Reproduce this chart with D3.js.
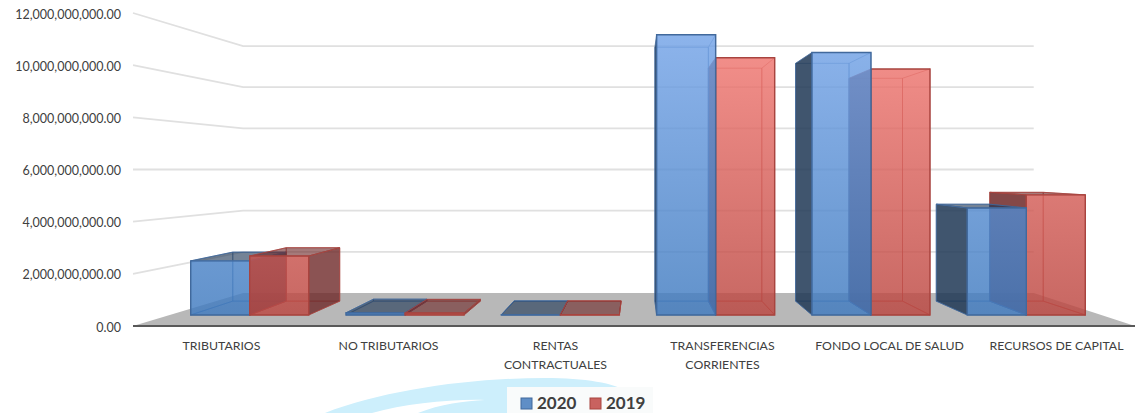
<!DOCTYPE html>
<html>
<head>
<meta charset="utf-8">
<script src="https://cdn.jsdelivr.net/npm/d3@7"></script>
<style>
  html, body { margin: 0; padding: 0; background: #fff; overflow: hidden; }
  text { font-family: Lato, "Open Sans", sans-serif; fill: #404040; }
</style>
</head>
<body>
<script>
// values
const categories = ["TRIBUTARIOS", "NO TRIBUTARIOS", "RENTAS\nCONTRACTUALES", "TRANSFERENCIAS\nCORRIENTES", "FONDO LOCAL DE SALUD", "RECURSOS DE CAPITAL"];
const seriesNames = ["2020", "2019"];
const values2020 = [2.23e9, 0.09e9, 0.01e9, 11.55e9, 10.82e9, 4.41e9];
const values2019 = [2.43e9, 0.08e9, 0.01e9, 10.6e9, 10.14e9, 4.95e9];
const yTicks = [0, 2e9, 4e9, 6e9, 8e9, 10e9, 12e9];

const width = 1135, height = 413;

const svg = d3.select("body").append("svg")
    .attr("width", width)
    .attr("height", height)
    .style("display", "block");

// scales live on the front edge of the floor, everything else gets projected back from there
const y = d3.scaleLinear().domain([0, 12e9]).range([326, 13]);
const x0 = d3.scaleBand().domain(categories).range([137, 1139]).paddingInner(0.24).paddingOuter(0.12);
const x1 = d3.scaleBand().domain(seriesNames).range([0, x0.bandwidth()]);

// walls and bars don't share quite the same vanishing point in the original
const wallVp = { x: 655, y: 169.6 }, wallK = 0.789;
const barVp = { x: 638, y: 168 }, frontK = 0.93, backK = 0.8425;

const proj = (vp, k) => (px, py) => [vp.x + (px - vp.x) * k, vp.y + (py - vp.y) * k];
const wall = proj(wallVp, wallK);
const front = proj(barVp, frontK);
const back = proj(barVp, backK);
const poly = pts => "M" + pts.map(p => p.join(",")).join("L") + "Z";

// gradients, in page coordinates so tall bars get lighter towards the top
const defs = svg.append("defs");
const grad = (id, top, bottom) => {
    const g = defs.append("linearGradient").attr("id", id)
        .attr("gradientUnits", "userSpaceOnUse")
        .attr("x1", 0).attr("y1", 35).attr("x2", 0).attr("y2", 315);
    g.append("stop").attr("offset", 0).attr("stop-color", top);
    g.append("stop").attr("offset", 1).attr("stop-color", bottom);
};
grad("blueFront", "#73a3e7", "#3f7abf");
grad("redFront", "#f37973", "#bb4640");

const styles = {
    "2020": { front: "url(#blueFront)", dark: "rgb(31,55,85)", edge: "#41699c", legend: "#5f8ec6" },
    "2019": { front: "url(#redFront)", dark: "rgb(110,40,40)", edge: "#a8443f", legend: "#c9625f" }
};

// watermark behind the legend
svg.append("path")
    .attr("d", "M325,413C385,390 470,378 545,378C585,378 615,383 627,392L600,413L418,413C440,404 465,401 485,400C450,399 405,404 372,413Z")
    .attr("fill", "#cdeffc");
svg.append("rect").attr("x", 507).attr("y", 387).attr("width", 146).attr("height", 26)
    .attr("fill", "#f9fbfb");

// back wall and side wall grid
svg.append("g").selectAll("path")
    .data(yTicks.slice(1))
    .join("path")
    .attr("d", d => {
        const a = wall(133, y(d)), b = wall(1135, y(d));
        return "M133," + y(d) + "L" + a.join(",") + "L" + b.join(",");
    })
    .attr("fill", "none")
    .attr("stroke", "#e0e0e0")
    .attr("stroke-width", 1.8);

// floor
svg.append("path")
    .attr("d", poly([[133, y(0)], wall(133, y(0)), wall(1135, y(0)), [1135, y(0)]]))
    .attr("fill", "#b8b8b8");
svg.append("line")
    .attr("x1", 133).attr("x2", 1135).attr("y1", y(0)).attr("y2", y(0))
    .attr("stroke", "#595959").attr("stroke-width", 2);

// flatten to one record per bar, far from the vanishing point goes first
const bars = [];
categories.forEach((c, i) => {
    bars.push({ cat: c, series: "2020", value: values2020[i] });
    bars.push({ cat: c, series: "2019", value: values2019[i] });
});
const barLeft = d => x0(d.cat) + x1(d.series);
bars.sort((a, b) =>
    Math.abs(barLeft(b) + x1.bandwidth() / 2 - 638 / frontK) - Math.abs(barLeft(a) + x1.bandwidth() / 2 - 638 / frontK));

const barG = svg.append("g").selectAll("g")
    .data(bars)
    .join("g");

barG.each(function (d) {
    const g = d3.select(this), s = styles[d.series];
    const l = barLeft(d), r = l + x1.bandwidth(), t = y(d.value), b = y(0);
    const fTL = front(l, t), fTR = front(r, t), fBL = front(l, b), fBR = front(r, b);
    const bTL = back(l, t), bTR = back(r, t), bBL = back(l, b), bBR = back(r, b);
    const rightOfVp = fTL[0] > barVp.x;
    const leftOfVp = fTR[0] < barVp.x;

    // inside edges, seen through the front
    g.append("path")
        .attr("d", poly([bTL, bTR, bBR, bBL]) + poly([fBL, fBR, bBR, bBL]))
        .attr("fill", "none").attr("stroke", s.edge).attr("stroke-opacity", 0.55);
    g.append("path")
        .attr("d", poly(rightOfVp ? [fTR, bTR, bBR, fBR] : [fTL, bTL, bBL, fBL]))
        .attr("fill", "none").attr("stroke", s.edge).attr("stroke-opacity", 0.55);

    // the side and the top that face the viewer are the dark ones
    if (rightOfVp || !leftOfVp) {
        g.append("path").attr("d", poly([fTL, bTL, bBL, fBL]))
            .attr("fill", s.dark).attr("fill-opacity", rightOfVp ? 0.85 : 0)
            .attr("stroke", s.edge).attr("stroke-opacity", 0.8);
    }
    if (leftOfVp) {
        g.append("path").attr("d", poly([fTR, bTR, bBR, fBR]))
            .attr("fill", s.dark).attr("fill-opacity", 0.8)
            .attr("stroke", s.edge).attr("stroke-opacity", 0.8);
    }
    if (fTL[1] > barVp.y) {
        g.append("path").attr("d", poly([fTL, fTR, bTR, bTL]))
            .attr("fill", s.dark).attr("fill-opacity", 0.62)
            .attr("stroke", s.edge).attr("stroke-opacity", 0.8);
    }

    g.append("path").attr("d", poly([fTL, fTR, fBR, fBL]))
        .attr("fill", s.front).attr("fill-opacity", 0.82)
        .attr("stroke", s.edge).attr("stroke-width", 1.4);
});

// y axis
const yAxis = svg.append("g")
    .attr("transform", "translate(121,1)")
    .call(d3.axisLeft(y).tickValues(yTicks).tickSize(0).tickPadding(0).tickFormat(d3.format(",.2f")));
yAxis.select(".domain").remove();
yAxis.selectAll("text").style("font-family", "Lato").style("font-size", "12.5px").style("fill", "#404040");

// category labels, two lines where the original wraps
const xAxis = svg.append("g")
    .selectAll("text")
    .data(categories)
    .join("text")
    .attr("text-anchor", "middle")
    .attr("font-size", 12.3);
xAxis.selectAll("tspan")
    .data(d => d.split("\n").map(line => ({ line, cat: d })))
    .join("tspan")
    .attr("x", d => x0(d.cat) + x0.bandwidth() / 2 + 1)
    .attr("y", (d, i) => 350 + i * 19)
    .text(d => d.line);

// legend
const legendX = d3.scaleOrdinal().domain(seriesNames).range([521, 590]);
const legend = svg.append("g").selectAll("g")
    .data(seriesNames)
    .join("g")
    .attr("transform", d => "translate(" + legendX(d) + ",398)");
legend.append("rect")
    .attr("width", 11).attr("height", 11)
    .attr("fill", d => styles[d].legend)
    .attr("stroke", d => styles[d].edge);
legend.append("text")
    .attr("x", 16).attr("y", 11)
    .attr("font-size", 17).attr("font-weight", 700)
    .text(d => d);
</script>
</body>
</html>
